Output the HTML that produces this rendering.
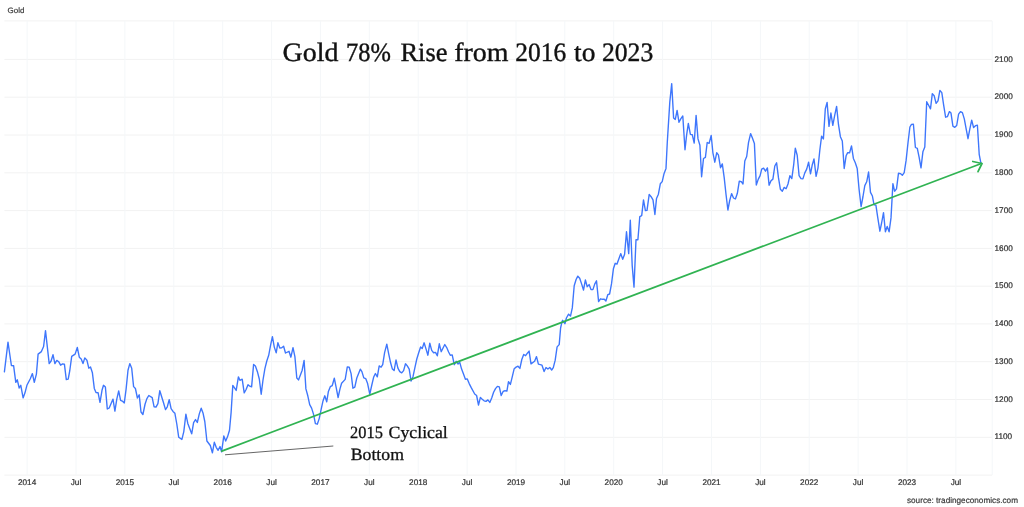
<!DOCTYPE html>
<html lang="en">
<head>
<meta charset="utf-8">
<title>Gold 78% Rise from 2016 to 2023</title>
<style>
html,body{margin:0;padding:0;background:#fff;}
body{width:1024px;height:507px;overflow:hidden;position:relative;font-family:"Liberation Sans",Arial,sans-serif;}
svg{position:absolute;left:0;top:0;display:block;text-rendering:geometricPrecision;filter:blur(0.4px);}
.gh{stroke:#f2f2f2;stroke-width:1;}
.gv{stroke:#f4f7f9;stroke-width:1;}
.ax{font-family:"Liberation Sans",Arial,sans-serif;font-size:8.2px;fill:#333;stroke:#333;stroke-width:0.22;}
.name{font-family:"Liberation Sans",Arial,sans-serif;font-size:17px;fill:#3a3a3a;stroke:#3a3a3a;stroke-width:0.4;}
.src{font-family:"Liberation Sans",Arial,sans-serif;font-size:8.2px;fill:#3c3c3c;stroke:#3c3c3c;stroke-width:0.2;}
.title{font-family:"Liberation Serif","Times New Roman",serif;font-size:26.5px;fill:#111;stroke:#111;stroke-width:0.4;}
.note{font-family:"Liberation Serif","Times New Roman",serif;font-size:17.2px;fill:#111;stroke:#111;stroke-width:0.3;}
.price{fill:none;stroke:#3e76fc;stroke-width:1.38;stroke-linejoin:round;stroke-linecap:round;}
.trend{fill:none;stroke:#30b352;stroke-width:1.75;stroke-linecap:round;stroke-linejoin:round;}
.ptr{stroke:#555;stroke-width:0.9;}
</style>
</head>
<body>
<svg width="1024" height="507" viewBox="0 0 1024 507">
<rect width="1024" height="507" fill="#fff"/>
<g>
<line x1="4.4" y1="20.9" x2="992.2" y2="20.9" class="gh"/>
<line x1="4.4" y1="59.4" x2="992.2" y2="59.4" class="gh"/>
<line x1="4.4" y1="97.2" x2="992.2" y2="97.2" class="gh"/>
<line x1="4.4" y1="135" x2="992.2" y2="135" class="gh"/>
<line x1="4.4" y1="172.8" x2="992.2" y2="172.8" class="gh"/>
<line x1="4.4" y1="210.6" x2="992.2" y2="210.6" class="gh"/>
<line x1="4.4" y1="248.4" x2="992.2" y2="248.4" class="gh"/>
<line x1="4.4" y1="286.2" x2="992.2" y2="286.2" class="gh"/>
<line x1="4.4" y1="323.9" x2="992.2" y2="323.9" class="gh"/>
<line x1="4.4" y1="361.7" x2="992.2" y2="361.7" class="gh"/>
<line x1="4.4" y1="399.5" x2="992.2" y2="399.5" class="gh"/>
<line x1="4.4" y1="437.3" x2="992.2" y2="437.3" class="gh"/>
<line x1="4.4" y1="475.1" x2="992.2" y2="475.1" class="gh"/>
<line x1="27.1" y1="20.9" x2="27.1" y2="475.1" class="gv"/>
<line x1="76" y1="20.9" x2="76" y2="475.1" class="gv"/>
<line x1="124.9" y1="20.9" x2="124.9" y2="475.1" class="gv"/>
<line x1="173.8" y1="20.9" x2="173.8" y2="475.1" class="gv"/>
<line x1="222.7" y1="20.9" x2="222.7" y2="475.1" class="gv"/>
<line x1="271.6" y1="20.9" x2="271.6" y2="475.1" class="gv"/>
<line x1="320.4" y1="20.9" x2="320.4" y2="475.1" class="gv"/>
<line x1="369.3" y1="20.9" x2="369.3" y2="475.1" class="gv"/>
<line x1="418.2" y1="20.9" x2="418.2" y2="475.1" class="gv"/>
<line x1="467.1" y1="20.9" x2="467.1" y2="475.1" class="gv"/>
<line x1="516" y1="20.9" x2="516" y2="475.1" class="gv"/>
<line x1="564.8" y1="20.9" x2="564.8" y2="475.1" class="gv"/>
<line x1="613.7" y1="20.9" x2="613.7" y2="475.1" class="gv"/>
<line x1="662.6" y1="20.9" x2="662.6" y2="475.1" class="gv"/>
<line x1="711.5" y1="20.9" x2="711.5" y2="475.1" class="gv"/>
<line x1="760.4" y1="20.9" x2="760.4" y2="475.1" class="gv"/>
<line x1="809.2" y1="20.9" x2="809.2" y2="475.1" class="gv"/>
<line x1="858.1" y1="20.9" x2="858.1" y2="475.1" class="gv"/>
<line x1="907" y1="20.9" x2="907" y2="475.1" class="gv"/>
<line x1="955.9" y1="20.9" x2="955.9" y2="475.1" class="gv"/>
<line x1="992.2" y1="20.9" x2="992.2" y2="475.1" class="gv"/>
</g>
<text transform="translate(7.6 12.95) scale(0.468 0.462)" class="name">Gold</text>
<g>
<text x="994.55" y="61.5" class="ax">2100</text>
<text x="994.55" y="99.3" class="ax">2000</text>
<text x="994.55" y="137.1" class="ax">1900</text>
<text x="994.55" y="174.9" class="ax">1800</text>
<text x="994.55" y="212.7" class="ax">1700</text>
<text x="994.55" y="250.5" class="ax">1600</text>
<text x="994.55" y="288.3" class="ax">1500</text>
<text x="994.55" y="326" class="ax">1400</text>
<text x="994.55" y="363.8" class="ax">1300</text>
<text x="994.55" y="401.6" class="ax">1200</text>
<text x="994.55" y="439.4" class="ax">1100</text>
</g>
<g>
<text x="27.1" y="485.4" class="ax" text-anchor="middle">2014</text>
<text x="76" y="485.4" class="ax" text-anchor="middle">Jul</text>
<text x="124.9" y="485.4" class="ax" text-anchor="middle">2015</text>
<text x="173.8" y="485.4" class="ax" text-anchor="middle">Jul</text>
<text x="222.7" y="485.4" class="ax" text-anchor="middle">2016</text>
<text x="271.6" y="485.4" class="ax" text-anchor="middle">Jul</text>
<text x="320.4" y="485.4" class="ax" text-anchor="middle">2017</text>
<text x="369.3" y="485.4" class="ax" text-anchor="middle">Jul</text>
<text x="418.2" y="485.4" class="ax" text-anchor="middle">2018</text>
<text x="467.1" y="485.4" class="ax" text-anchor="middle">Jul</text>
<text x="516" y="485.4" class="ax" text-anchor="middle">2019</text>
<text x="564.8" y="485.4" class="ax" text-anchor="middle">Jul</text>
<text x="613.7" y="485.4" class="ax" text-anchor="middle">2020</text>
<text x="662.6" y="485.4" class="ax" text-anchor="middle">Jul</text>
<text x="711.5" y="485.4" class="ax" text-anchor="middle">2021</text>
<text x="760.4" y="485.4" class="ax" text-anchor="middle">Jul</text>
<text x="809.2" y="485.4" class="ax" text-anchor="middle">2022</text>
<text x="858.1" y="485.4" class="ax" text-anchor="middle">Jul</text>
<text x="907" y="485.4" class="ax" text-anchor="middle">2023</text>
<text x="955.9" y="485.4" class="ax" text-anchor="middle">Jul</text>
</g>
<text x="1018" y="503.3" class="src" text-anchor="end">source: tradingeconomics.com</text>
<path class="price" d="M4.4 371.8 L8 342.1 L11.4 365.5 L13.6 365.7 L15.8 382.3 L17.3 379.8 L19.2 388 L20.8 385.3 L23.1 397.9 L24.9 393.1 L26.9 385.3 L30.3 378.8 L32.4 373.6 L34.3 382.4 L36.4 374.1 L38.1 354.1 L41.4 351.6 L43.6 346.5 L45.5 330.7 L49.2 363.6 L51.1 361 L53 354.7 L54.9 363.6 L56.8 360.4 L58.7 361.7 L60.6 365.2 L62.5 363.9 L64.4 364.2 L66.3 379.6 L68.2 379.1 L69.8 370.5 L71.7 356.4 L75.1 354.1 L77.3 347.5 L79.3 357.2 L81.2 358.9 L83 363.6 L84.8 357.9 L86.9 360.2 L88.8 368.2 L90.5 367 L92.4 372.8 L94.3 388.4 L96 392.6 L98.1 392.8 L100 402.3 L102 390.3 L103.5 385.3 L105.4 387.1 L107.3 409 L109.2 408 L113 399.1 L114.9 411.1 L116.8 399.1 L118.7 390.9 L120.6 400.4 L122.3 401.1 L124.3 402.9 L126.1 389.1 L128 370.2 L129.8 363.6 L131.7 368.3 L133.6 386.6 L135.4 388.5 L137.4 398 L139.2 394.8 L141 412 L142.9 414.5 L145.1 404 L146.9 398.6 L148.8 395.5 L152.2 397.7 L154.1 406.8 L156 407.1 L157.9 403.7 L159.8 390.7 L163.6 403 L165.5 409.6 L167.3 406.8 L169.2 399.6 L171.1 408.7 L173 411.4 L174.9 413.3 L176.8 424 L178.7 437.2 L181.9 439.4 L183.8 431.6 L185.9 414.1 L187.8 423.4 L191.7 433.8 L193.6 422.7 L195.5 419.6 L197.3 422.5 L199.3 413.9 L201.2 408.2 L203.1 413.3 L204.8 421.5 L206.9 441 L210.3 445.5 L212.4 452.8 L214.3 442.3 L216.2 447.3 L218.1 450.3 L220 446.5 L221.6 451.8 L223.8 436 L225.7 441 L227.6 436.6 L229.5 430.3 L231.1 412.6 L232.8 385.4 L236.2 390.4 L238.4 376.9 L239.9 380.3 L242.2 379.2 L244.2 392.8 L246.1 389.5 L248 384.7 L249.8 386.2 L251.6 386.9 L253.6 364.4 L255.4 366 L257.4 371.7 L259.3 379 L261.2 394.2 L263 380 L264.9 368.6 L266.8 361 L268.7 355.3 L270.6 345.2 L272.4 336.6 L274.3 347.1 L276.2 352.8 L277.9 342.7 L279.8 348 L281.7 347.7 L283.6 346.2 L285.5 353 L289 351.3 L290.9 357.2 L293 347.7 L294.9 356.6 L296.8 378 L298.5 379.9 L302.1 370.5 L304.1 360.4 L305.9 388.9 L307.8 395.8 L309.7 404.7 L311.6 408.1 L313.5 414.1 L315.4 423.6 L317.3 424.2 L319.2 418.6 L321.1 409.7 L323 400.9 L324.8 395.8 L326.7 401.8 L328.4 391.4 L330.3 386.7 L332.2 385.7 L334.3 378.2 L336.2 387.6 L338.1 397.5 L340 388.9 L341.6 383.2 L345.2 379.4 L347.3 366.9 L349.2 367.3 L351.1 373.6 L352.9 388.2 L354.8 387.2 L356.8 378 L360.3 369.2 L361.9 371.6 L363.8 377.9 L365.7 378.6 L367.6 383.6 L369.8 394.1 L371.7 385.5 L373.6 377.3 L375.4 373.5 L377.3 376.9 L379.2 365.9 L381.1 367.2 L382.7 364.7 L384.6 352.7 L386.8 344.1 L388.7 353.9 L390.6 362.8 L392.4 369.1 L394.1 370.6 L396 360 L397.9 368.1 L399.8 371.6 L401.7 372.9 L403.6 370.6 L405.5 363.8 L407.3 365.9 L409.2 369.1 L411.1 381.1 L413 376.7 L414.9 367.6 L416.8 359 L418.7 352.7 L420.6 347 L422.2 348.6 L424.1 342.8 L426 348.9 L427.9 355.2 L429.8 343.2 L431.7 350.4 L433.6 352.7 L435.5 352.4 L437.3 355.8 L439.3 343.8 L441.2 351.7 L444.8 344.5 L446.7 347.6 L448.6 352 L450.3 355.2 L452.2 354.9 L454.3 364.7 L456.2 361.3 L458.1 364 L459.7 362.1 L461.6 369.1 L463.5 374.1 L465.4 379.2 L467.3 378.9 L469.2 383.6 L471.1 387.4 L474.7 394 L476.6 395.5 L478.5 405 L480.4 397.4 L482.2 399.3 L484.1 400.8 L486 401.4 L487.9 399.9 L489.8 402.4 L491.7 398 L493.6 392.3 L495.5 388.6 L497.4 386.4 L499.3 386.9 L501.2 395.5 L503.1 391.5 L505 390.7 L506.9 391.1 L508.5 381.6 L510.4 384.4 L512.3 376.6 L514.2 368.7 L516.1 367.1 L518 366.2 L519.9 368.4 L521.8 359.5 L523.7 354.5 L525.6 355.7 L527.4 353.2 L529.1 351.1 L531 363.9 L534.6 361.2 L536.5 356.6 L538.4 364.2 L542 365.2 L544.1 371.5 L546 367.5 L547.9 369 L549.8 367.5 L551.7 370 L553.3 367.7 L555.2 360.2 L557.1 346.9 L559.2 344.6 L560.6 328 L561.4 324.3 L562.6 320.3 L564.9 323.7 L566.4 318 L568.6 314.2 L570.5 316.1 L572.3 307.9 L574.2 285.8 L576.1 279.5 L577.8 276.1 L579.7 278.3 L581.6 283.9 L583.5 290 L585.4 279.9 L587.2 286.7 L589.1 284.6 L591 289.6 L592.9 289.6 L594.8 283.9 L596.5 280.8 L598.6 301.6 L600.5 298.8 L602.4 299.3 L604.3 299.3 L605.9 301 L607.8 294.7 L609.6 294 L611.5 283.9 L613.4 268.8 L615.2 263.3 L617 264.1 L618.9 258.7 L620.8 253.6 L622.7 259.3 L624.6 254.2 L626.5 231.8 L628.7 253.6 L630.3 220.2 L632.2 265.6 L634 287.1 L636 239.7 L637.9 239.7 L639.8 216.6 L641.7 215.7 L643.5 199.9 L645.4 210.6 L647 210.4 L649.2 194.4 L651.1 196.7 L653 199.9 L654.9 214.5 L656.5 198.6 L658.4 194.2 L660.3 183.8 L662.2 181.6 L664.1 173.4 L666 168.4 L667.3 142 L669.8 102.1 L671.7 83.6 L673.6 117.9 L675.3 119.4 L677.1 110.4 L679 122.3 L680.9 118.6 L682.8 116 L685 149.7 L686.6 135.2 L688.3 123.5 L690.4 134.4 L692.3 134.8 L694.2 143 L696.1 115.4 L698 138.9 L699.9 145.3 L701.6 176.8 L703.5 158.5 L705.4 157.4 L707.2 142.5 L709.1 143.4 L711.2 135.5 L712.9 152.8 L714.8 162.2 L716.7 152.8 L718.4 154.9 L720.5 167.7 L722.3 163.9 L724.2 177.6 L726 194.2 L727.9 210 L729.7 200.5 L731.6 193.6 L733.5 198 L735.4 199 L737.3 193.6 L739.3 181.2 L741.3 181.6 L743 184 L744.8 161 L746.7 156.5 L748.5 142.7 L750.6 133.6 L752.5 138.3 L754.4 143.4 L756.3 185 L758.2 179.4 L760.1 175.6 L761.7 169.2 L763.6 168.2 L765.5 171.2 L767.4 167.9 L769.1 185.3 L771 180.7 L772.9 179.1 L774.8 166 L776.6 162.8 L778.5 177.9 L780.4 189.3 L782.3 191.2 L784.2 187.4 L786.1 188.7 L788 184 L789.9 175.7 L791.8 178.6 L793.7 164.7 L795.3 148.3 L797.2 155.2 L799.1 175.7 L801 178.6 L802.9 178.9 L804.8 172.9 L806.7 169.1 L808.6 162.1 L810.5 173.9 L812.3 164.7 L814 159 L816.1 176.4 L818 167.8 L819.9 149.5 L821.6 136.2 L823.4 139 L825.3 108.9 L827.1 102.4 L829 126.4 L830.9 113 L832.8 125.4 L834.7 115.3 L836.6 106.4 L838.5 124.7 L840.4 136.7 L842.3 141 L844.2 168.5 L846.1 155.8 L847.7 152.6 L849.6 152.7 L851.5 145.9 L853.4 158.4 L855.3 162.8 L857.2 168.5 L859.1 189.5 L861.1 206.6 L863 196.5 L864.8 185.6 L866.7 181.8 L868.6 172 L870.5 192.4 L872.4 196 L874 204.7 L875.9 205.1 L877.8 217.9 L879.9 231.2 L881.6 223 L883.5 212.6 L885.4 231.8 L887.2 226.5 L889.1 231.8 L891 217.9 L892.9 183.6 L894.6 191.2 L896.5 188.9 L898.5 173.2 L900.4 173.6 L902.3 175.3 L904.2 172.7 L906.1 160.4 L908 142.7 L909.9 127 L911.5 124.4 L913.4 124.2 L915.4 147.5 L917.3 148.4 L919.1 157.2 L921 167.9 L922.9 151.8 L924.8 147 L926.7 101.7 L928.6 105.3 L930.5 108.8 L932.3 93.6 L934.2 95.8 L936.1 103.4 L938 100.8 L939.9 90.4 L941.8 92.6 L943.7 105.3 L945.6 117.2 L947.5 116.6 L949.4 111.6 L951 113.1 L952.9 126.1 L954.8 127.3 L956.7 125.5 L958.6 114.1 L960.5 111.6 L962.4 112.6 L964.3 118.9 L966.2 129.2 L968 138.7 L969.8 129.2 L971.7 120.2 L973.6 127.6 L975.5 125.7 L977.4 125.2 L979.2 154.3 L980.9 163.1"/>
<path class="trend" d="M221.8 451.1 L981.4 163.5"/>
<path class="trend" d="M972.8 161.5 L982.0 163.5 L978.0 171.7"/>
<line class="ptr" x1="225" y1="454.8" x2="333.3" y2="446"/>
<text class="title" y="60.5"><tspan x="282.55" textLength="55.81" lengthAdjust="spacingAndGlyphs">Gold</tspan> <tspan x="346.08" textLength="44.89" lengthAdjust="spacingAndGlyphs">78%</tspan> <tspan x="400.5" textLength="46.97" lengthAdjust="spacingAndGlyphs">Rise</tspan> <tspan x="454.2" textLength="54.19" lengthAdjust="spacingAndGlyphs">from</tspan> <tspan x="515.34" textLength="50.80" lengthAdjust="spacingAndGlyphs">2016</tspan> <tspan x="574.1" textLength="21.36" lengthAdjust="spacingAndGlyphs">to</tspan> <tspan x="602.03" textLength="51.21" lengthAdjust="spacingAndGlyphs">2023</tspan></text>
<text class="note"><tspan x="350.1" y="438.1" textLength="32.77" lengthAdjust="spacingAndGlyphs">2015</tspan> <tspan x="388.6" y="438.1" textLength="59.17" lengthAdjust="spacingAndGlyphs">Cyclical</tspan> <tspan x="350.7" y="459.8" textLength="53.25" lengthAdjust="spacingAndGlyphs">Bottom</tspan></text>
</svg>
</body>
</html>
